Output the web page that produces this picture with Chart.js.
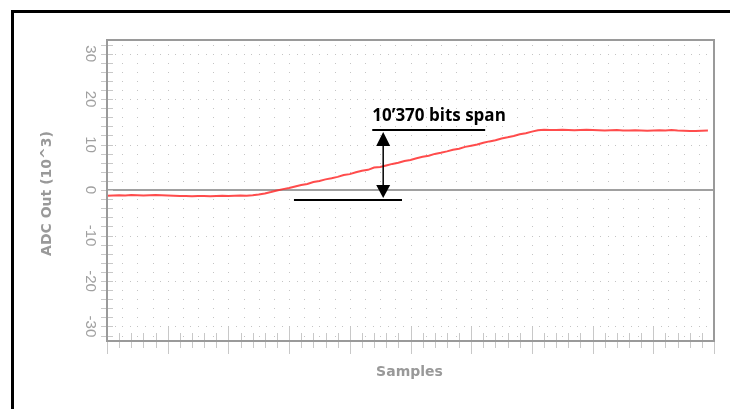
<!DOCTYPE html>
<html><head><meta charset="utf-8">
<script src="https://cdn.jsdelivr.net/npm/chart.js@4"></script>
<style>
html,body{margin:0;padding:0;background:#fff;}
#wrap{position:relative;width:730px;height:409px;overflow:hidden;}
#frame{position:absolute;left:11px;top:10px;width:800px;height:500px;border-left:3px solid #000;border-top:3px solid #000;pointer-events:none;}
canvas{display:block;}
</style></head><body>
<div id="wrap"><canvas id="c" width="730" height="409"></canvas><div id="frame"></div></div>
<script>
// ADC output (x10^3) for each sample
const adcValues = [
  -1.25,-1.2,-1.15,-1.2,-1.1,-1.15,-1.2,-1.15,-1.1,-1.15,
  -1.2,-1.25,-1.3,-1.3,-1.35,-1.3,-1.3,-1.35,-1.3,-1.25,
  -1.3,-1.25,-1.2,-1.25,-1.15,-1.0,-0.75,-0.45,-0.1,0.2,
  0.45,0.8,1.1,1.35,1.75,2.0,2.35,2.6,2.9,3.3,
  3.5,3.9,4.25,4.45,4.95,5.05,5.4,5.75,6.0,6.4,
  6.6,7.0,7.3,7.55,7.95,8.2,8.5,8.85,9.1,9.5,
  9.75,10.0,10.4,10.7,10.95,11.35,11.6,11.9,12.25,12.5,
  12.85,13.15,13.25,13.2,13.2,13.25,13.2,13.15,13.2,13.25,
  13.2,13.15,13.1,13.15,13.2,13.1,13.1,13.15,13.1,13.05,
  13.1,13.15,13.1,13.2,13.1,13.05,13.0,13.0,13.05,13.1
];
const sampleIndex = adcValues.map((v, i) => i);
const yTickLabels = [30, 20, 10, 0, -10, -20, -30];
const yAxisTitle = 'ADC Out (10^3)';
const xAxisTitle = 'Samples';
const spanLabel = '10\u2019370 bits span';
const spanTop = 13.3;
const spanBottom = -2.1;

// annotation geometry (in sample units)
const ann = { topFrom: 43.7, topTo: 62.3, botFrom: 30.8, botTo: 48.6, arrowAt: 45.5, textAt: 43.7 };

const custom = {
  id: 'custom',
  beforeDatasetsDraw(chart) {
    const { ctx, chartArea: a, scales: { x, y } } = chart;
    ctx.save();
    ctx.fillStyle = '#c4c4c4';
    for (let k = -16; k <= 16; k++) {
      const v = k * 2;
      if (v === 0) continue;
      const py = Math.round(y.getPixelForValue(v));
      if (py <= a.top + 1 || py >= a.bottom - 1) continue;
      const major = v % 10 === 0;
      const n = major ? 80 : 40;
      for (let j = 0; j <= n; j++) {
        const u = j * 100 / n;
        const px = Math.round(x.getPixelForValue(u));
        if (px <= a.left + 1 || px >= a.right - 1) continue;
        ctx.fillRect(px, py, 1, 1);
      }
    }
    // zero line
    ctx.strokeStyle = '#a0a0a0';
    ctx.lineWidth = 2;
    const z = y.getPixelForValue(0);
    ctx.beginPath(); ctx.moveTo(a.left, z); ctx.lineTo(a.right, z); ctx.stroke();
    ctx.restore();
  },
  afterDraw(chart) {
    const { ctx, chartArea: a, scales: { x, y } } = chart;
    ctx.save();
    // ticks on x
    ctx.strokeStyle = '#c8c8c8';
    ctx.lineWidth = 1;
    for (let k = 0; k <= 50; k++) {
      const u = k * 2;
      const px = Math.round(x.getPixelForValue(u)) + 0.5;
      const major = u % 10 === 0;
      ctx.beginPath();
      ctx.moveTo(px, a.bottom - (major ? 14 : 8));
      ctx.lineTo(px, a.bottom + (major ? 13 : 7));
      ctx.stroke();
    }
    // ticks on y
    for (let k = -16; k <= 16; k++) {
      const py = Math.round(y.getPixelForValue(k * 2)) + 0.5;
      ctx.beginPath(); ctx.moveTo(a.left - 6, py); ctx.lineTo(a.left + 6, py); ctx.stroke();
    }
    // plot border
    ctx.strokeStyle = '#9a9a9a';
    ctx.lineWidth = 2;
    ctx.strokeRect(a.left, a.top, a.right - a.left, a.bottom - a.top);
    // y tick labels (rotated)
    ctx.fillStyle = '#a0a0a0';
    ctx.font = '15px "Liberation Sans", Arial, sans-serif';
    ctx.textAlign = 'center';
    ctx.textBaseline = 'middle';
    yTickLabels.forEach(v => {
      const py = y.getPixelForValue(v);
      ctx.save();
      ctx.translate(a.left - 17, py);
      ctx.rotate(Math.PI / 2);
      ctx.fillText(String(v), 0, 0);
      ctx.restore();
    });
    // axis titles
    ctx.fillStyle = '#999999';
    ctx.font = 'bold 14px "DejaVu Sans", sans-serif';
    ctx.save();
    ctx.translate(47, (a.top + a.bottom) / 2 + 3);
    ctx.rotate(-Math.PI / 2);
    ctx.fillText(yAxisTitle, 0, 0);
    ctx.restore();
    ctx.fillText(xAxisTitle, (a.left + a.right) / 2 - 1, a.bottom + 31);
    // annotation
    ctx.strokeStyle = '#000';
    ctx.fillStyle = '#000';
    ctx.lineWidth = 2;
    const yt = Math.round(y.getPixelForValue(spanTop));
    const yb = Math.round(y.getPixelForValue(spanBottom));
    ctx.beginPath();
    ctx.moveTo(x.getPixelForValue(ann.topFrom), yt); ctx.lineTo(x.getPixelForValue(ann.topTo), yt);
    ctx.moveTo(x.getPixelForValue(ann.botFrom), yb); ctx.lineTo(x.getPixelForValue(ann.botTo), yb);
    ctx.stroke();
    const ax = x.getPixelForValue(ann.arrowAt);
    ctx.lineWidth = 1.5;
    ctx.beginPath(); ctx.moveTo(ax, yt + 12); ctx.lineTo(ax, yb - 12); ctx.stroke();
    ctx.beginPath(); ctx.moveTo(ax, yt + 2); ctx.lineTo(ax - 7, yt + 16); ctx.lineTo(ax + 7, yt + 16); ctx.closePath(); ctx.fill();
    ctx.beginPath(); ctx.moveTo(ax, yb - 2); ctx.lineTo(ax - 7, yb - 15); ctx.lineTo(ax + 7, yb - 15); ctx.closePath(); ctx.fill();
    ctx.font = 'bold 17px "Open Sans", sans-serif';
    ctx.textAlign = 'left';
    ctx.textBaseline = 'alphabetic';
    ctx.fillText(spanLabel, x.getPixelForValue(ann.textAt), yt - 9);
    ctx.restore();
  }
};

new Chart(document.getElementById('c').getContext('2d'), {
  type: 'line',
  data: {
    labels: sampleIndex,
    datasets: [{
      data: adcValues,
      borderColor: 'rgba(255,45,45,0.85)',
      borderWidth: 2,
      pointRadius: 0,
      tension: 0,
      fill: false
    }]
  },
  options: {
    responsive: false,
    animation: false,
    layout: { padding: { top: 40, right: 16, left: 0, bottom: 0 } },
    plugins: { legend: { display: false }, tooltip: { enabled: false } },
    scales: {
      x: {
        type: 'linear', min: 0, max: 100,
        grid: { display: false, drawTicks: false },
        border: { display: false },
        ticks: { display: false },
        afterFit(s) { s.height = 68; }
      },
      y: {
        min: -33.2, max: 33,
        grid: { display: false, drawTicks: false },
        border: { display: false },
        ticks: { display: false },
        afterFit(s) { s.width = 107; }
      }
    }
  },
  plugins: [custom]
});
</script>
</body></html>
